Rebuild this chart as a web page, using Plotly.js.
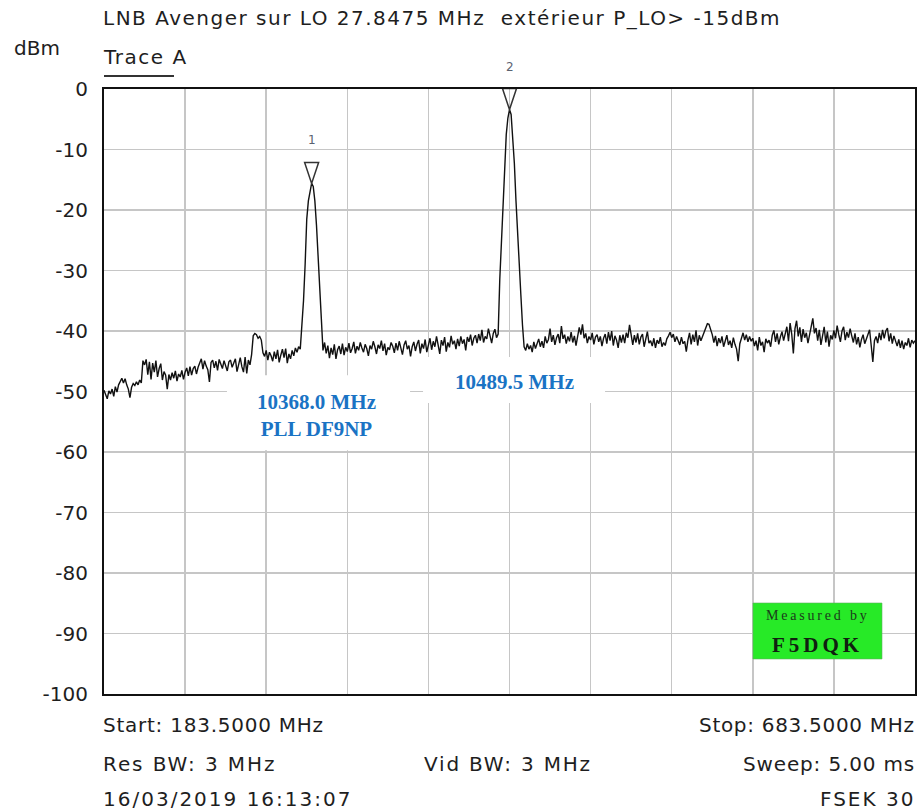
<!DOCTYPE html>
<html>
<head>
<meta charset="utf-8">
<script src="https://cdn.plot.ly/plotly-3.0.1.min.js"></script>
<style>
html,body{margin:0;padding:0;background:#fff;}
#chart{width:917px;height:810px;}
</style>
</head>
<body>
<div id="chart"></div>
<script>
// ---- Sweep settings (MHz) ----
var startFreq = 183.5;
var stopFreq = 683.5;
var stepFreq = 1.0;

// ---- Trace A levels (dBm), one per sweep point ----
var noiseLeft = [
 -49.8,-50.6,-51.2,-49.9,-50.4,-49.6,-50.8,-49.2,-50.1,-48.9,
 -48.2,-47.8,-48.6,-47.9,-48.9,-49.6,-51.0,-49.3,-48.7,-49.0,
 -48.4,-48.9,-48.1,-48.6,-44.9,-45.6,-44.7,-47.2,-45.1,-48.0,
 -45.3,-46.8,-44.9,-47.6,-46.2,-45.4,-48.1,-46.7,-47.3,-49.6,
 -47.2,-48.1,-46.9,-47.8,-46.6,-48.3,-47.1,-47.6,-46.5,-48.0,
 -46.8,-46.1,-47.4,-45.9,-47.3,-46.2,-45.8,-47.1,-46.0,-45.3,
 -44.6,-46.3,-44.9,-45.8,-46.4,-48.4,-45.2,-44.8,-46.1,-45.0,
 -46.5,-44.7,-45.6,-46.2,-44.9,-45.7,-46.6,-45.1,-44.8,-46.0,
 -45.3,-44.6,-46.7,-45.2,-44.4,-45.9,-46.8,-44.3,-47.0,-44.8,
 -45.6,-43.9,-40.8,-40.4,-40.6,-41.2,-40.9,-41.5,-43.6,-44.2,
 -43.2,-44.8,-43.5,-44.1,-45.0,-43.4,-44.6,-43.1,-45.2,-44.0,
 -43.0,-44.4,-42.9,-45.3,-43.8,-44.6,-43.2,-44.1,-42.8,-43.5,
 -42.6
];
var peakOne = [
 -43.0,-39.5,-35.0,-29.0,-21.5,-18.5,-16.7,-15.6,-16.1,-18.5,
 -22.5,-28.5,-33.5,-38.0,-43.2
];
var noiseMid = [
 -41.9,-43.7,-42.4,-44.5,-42.8,-43.9,-42.2,-44.6,-43.1,-42.5,-43.8,-42.1,-44.0,-42.7,
 -43.4,-42.0,-43.6,-42.9,-41.8,-43.7,-42.5,-43.2,-41.9,-42.8,
 -43.5,-42.2,-42.9,-44.1,-42.4,-43.0,-41.7,-42.6,-43.8,-42.3,
 -42.9,-41.6,-43.3,-42.1,-44.0,-42.7,-43.1,-41.9,-42.5,-43.6,
 -42.0,-43.2,-41.7,-42.8,-43.9,-42.3,-41.6,-43.0,-42.4,-44.2,
 -42.6,-41.8,-43.3,-42.2,-41.5,-43.7,-42.1,-42.9,-41.4,-43.5,
 -42.0,-41.2,-43.1,-41.7,-42.6,-40.9,-42.3,-43.8,-41.5,-42.4,
 -41.0,-43.4,-41.9,-42.7,-40.8,-42.2,-41.6,-43.0,-41.3,-42.5,
 -40.9,-42.1,-41.4,-43.2,-41.0,-41.8,-40.6,-42.4,-41.2,-40.7,
 -42.0,-40.5,-41.6,-39.8,-41.9,-40.9,-41.3,-39.6,-40.8,-42.0,
 -40.4,-39.7,-41.1
];
var peakTwo = [
 -40.5,-31.5,-25.5,-19.0,-12.0,-7.5,-4.8,-3.4,-4.2,-7.8,
 -12.3,-18.5,-24.5,-29.5,-34.0,-39.0,-42.6
];
var noiseRight = [
 -43.2,-42.1,-43.0,-42.4,-43.5,-41.8,-42.9,-42.2,-41.3,-42.6,
 -41.7,-42.8,-40.9,-42.0,-41.4,-39.6,-41.8,-40.7,-42.3,-41.1,
 -40.5,-42.0,-39.2,-41.3,-40.6,-42.1,-40.9,-41.7,-40.2,-41.9,
 -40.8,-42.4,-41.1,-39.4,-40.6,-38.9,-41.2,-40.4,-42.0,-40.9,
 -41.5,-40.3,-42.2,-41.0,-40.6,-41.8,-40.9,-42.5,-41.2,-40.5,
 -42.1,-40.2,-41.6,-40.0,-42.4,-40.8,-41.5,-42.8,-40.7,-41.9,
 -40.6,-42.0,-40.3,-41.1,-39.0,-40.8,-42.3,-40.7,-41.9,-40.4,
 -42.2,-41.0,-40.5,-42.6,-41.3,-40.1,-42.0,-41.6,-42.5,-41.2,
 -42.8,-41.5,-42.1,-41.0,-42.6,-41.9,-42.4,-41.3,-40.8,-40.2,
 -41.1,-40.5,-41.8,-40.9,-41.6,-42.3,-41.0,-42.1,-41.7,-43.4,
 -41.5,-40.3,-42.2,-40.6,-41.8,-39.9,-42.4,-40.7,-41.6,-40.9,
 -40.2,-39.5,-38.8,-38.9,-39.7,-40.6,-41.9,-40.8,-42.5,-41.2,
 -42.0,-40.9,-42.6,-41.4,-40.7,-42.3,-41.6,-42.8,-41.1,-42.2,
 -43.0,-45.0,-42.1,-41.2,-40.3,-41.5,-40.6,-41.8,-40.9,-41.7,
 -41.2,-42.5,-41.6,-43.2,-41.0,-42.4,-41.8,-43.5,-41.3,-42.0,
 -41.5,-42.6,-40.7,-39.9,-41.8,-40.4,-42.2,-41.0,-40.1,-41.6,
 -40.2,-39.3,-41.7,-38.7,-40.5,-43.7,-39.6,-38.3,-40.9,-39.4,
 -41.8,-39.7,-41.1,-40.3,-42.0,-40.6,-38.9,-37.9,-40.4,-39.5,
 -41.6,-39.8,-42.3,-40.5,-39.3,-41.9,-40.1,-42.6,-40.7,-41.4,
 -39.9,-41.2,-39.1,-40.6,-41.8,-40.0,-39.3,-41.5,-40.2,-41.1,
 -39.6,-40.8,-41.9,-40.4,-42.2,-41.0,-42.7,-41.4,-40.6,-42.1,
 -41.3,-40.5,-39.8,-42.4,-45.1,-41.6,-40.9,-42.0,-40.3,-41.5,
 -39.8,-41.2,-40.0,-39.5,-41.7,-40.4,-42.1,-40.8,-41.9,-42.5,
 -41.4,-42.8,-41.6,-43.0,-41.9,-42.4,-41.2,-42.7,-41.5,-42.0,-41.6
];

// ---- Markers ----
var markerFreq = [311.5, 433.5];
var markerLevel = [-15.6, -3.4];
var markerNames = ['1', '2'];

// ---- Axis ----
var yTickVals = [0,-10,-20,-30,-40,-50,-60,-70,-80,-90,-100];
var yTickText = ['0','-10','-20','-30','-40','-50','-60','-70','-80','-90','-100'];

// ---- Texts ----
var titleText = 'LNB Avenger sur LO 27.8475 MHz  extérieur P_LO> -15dBm';
var unitText = 'dBm';
var traceText = 'Trace A';
var footerLeft = ['Start: 183.5000 MHz', 'Res BW: 3 MHz', '16/03/2019 16:13:07'];
var footerRight = ['Stop: 683.5000 MHz', 'Sweep: 5.00 ms', 'FSEK 30'];
var footerMid = 'Vid BW: 3 MHz';
var noteOne = '10368.0 MHz<br>PLL DF9NP';
var noteTwo = '10489.5 MHz';

var traceLevels = noiseLeft.concat(peakOne, noiseMid, peakTwo, noiseRight);

var sans = 'DejaVu Sans, Arial, sans-serif';
var serif = 'Liberation Serif, Times New Roman, serif';
var txtColor = '#1e1e1e';
var blue = '#1a73c4';

function spaced(t, px) {
  return '<span style="letter-spacing:' + px + 'px">' + t + '</span>';
}

var traces = [{
  type: 'scatter', mode: 'lines',
  x0: startFreq, dx: stepFreq, y: traceLevels,
  line: {color: '#111', width: 1.4},
  hoverinfo: 'skip'
}];

var footerY = [-0.0512, -0.1157, -0.1736];
var leftSpacing = [0.75, 1.9, 2.0];
var rightSpacing = [0.7, 0.85, 2.0];
var annotations = [
  {xref:'paper', yref:'paper', x:0, xshift:-3, y:1.1174, xanchor:'left', yanchor:'middle', showarrow:false,
   text:spaced(titleText, 1.5), font:{family:sans, size:20, color:txtColor}},
  {xref:'paper', yref:'paper', x:-0.111, xshift:-2, y:1.0678, xanchor:'left', yanchor:'middle', showarrow:false,
   text:unitText, font:{family:sans, size:20, color:txtColor}},
  {xref:'paper', yref:'paper', x:0, xshift:-3, y:1.0529, xanchor:'left', yanchor:'middle', showarrow:false,
   text:spaced(traceText, 1.5), font:{family:sans, size:20, color:txtColor}},
  {xref:'paper', yref:'paper', x:0.3958, xshift:-3, y:footerY[1], xanchor:'left', yanchor:'middle', showarrow:false,
   text:spaced(footerMid, 1.8), font:{family:sans, size:20, color:txtColor}},
  {xref:'x', yref:'y', x:314.8, y:-53.9, xanchor:'center', yanchor:'middle', showarrow:false,
   text:'<b>'+noteOne+'</b>', font:{family:serif, size:21, color:blue}},
  {xref:'x', yref:'y', x:436.3, y:-48.4, xanchor:'center', yanchor:'middle', showarrow:false,
   text:'<b>'+noteTwo+'</b>', font:{family:serif, size:21, color:blue}},
  {xref:'paper', yref:'paper', x:0.8798, y:0.1295, xanchor:'center', yanchor:'middle', showarrow:false,
   text:spaced('Measured by', 2.8), font:{family:serif, size:14, color:'#1b3b1b'}},
  {xref:'paper', yref:'paper', x:0.8798, y:0.0815, xanchor:'center', yanchor:'middle', showarrow:false,
   text:'<b>'+spaced('F5DQK', 4)+'</b>', font:{family:serif, size:21, color:'#102010'}}
];
for (var i = 0; i < footerLeft.length; i++) {
  annotations.push({xref:'paper', yref:'paper', x:0, xshift:-3, y:footerY[i], xanchor:'left', yanchor:'middle',
    showarrow:false, text:spaced(footerLeft[i], leftSpacing[i]), font:{family:sans, size:20, color:txtColor}});
  annotations.push({xref:'paper', yref:'paper', x:1, xshift:2, y:footerY[i], xanchor:'right', yanchor:'middle',
    showarrow:false, text:spaced(footerRight[i], rightSpacing[i]), font:{family:sans, size:20, color:txtColor}});
}
for (var m = 0; m < markerFreq.length; m++) {
  annotations.push({xref:'x', yref:'y', x:markerFreq[m], y:markerLevel[m], yshift:43,
    xanchor:'center', yanchor:'middle', showarrow:false, text:markerNames[m],
    font:{family:sans, size:12, color:'#5a6270'}});
}

var shapes = [
  // white label backgrounds hiding grid lines
  {type:'rect', xref:'x', yref:'y', x0:259.3, x1:372.2, y0:-59.7, y1:-47.3,
   fillcolor:'#fff', line:{width:0}, layer:'between'},
  {type:'rect', xref:'x', yref:'y', x0:380.2, x1:492.4, y0:-51.9, y1:-44.3,
   fillcolor:'#fff', line:{width:0}, layer:'between'},
  // green stamp
  {type:'rect', xref:'paper', yref:'paper', x0:0.8002, x1:0.9593, y0:0.0579, y1:0.1504,
   fillcolor:'#27ea27', line:{width:0.6, color:'#60b060'}, layer:'above'},
  // underline under Trace A
  {type:'line', xref:'paper', yref:'paper', x0:0, x1:0.0863, y0:1.0215, y1:1.0215,
   line:{color:'#333', width:2}}
];
for (var s = 0; s < markerFreq.length; s++) {
  shapes.push({type:'path', xref:'x', yref:'y', xsizemode:'pixel', ysizemode:'pixel',
    xanchor:markerFreq[s], yanchor:markerLevel[s],
    path:'M-7,21L7,21L0,0Z', line:{color:'#333', width:1.5}, fillcolor:'rgba(0,0,0,0)', layer:'above'});
}

var layout = {
  width: 917, height: 810,
  margin: {l:104, r:2, t:89, b:116, pad:0},
  paper_bgcolor: '#fff', plot_bgcolor: '#fff',
  showlegend: false,
  xaxis: {range:[startFreq, stopFreq], tick0:startFreq, dtick:50, showticklabels:false,
    showgrid:true, gridcolor:'#c6c6c6', gridwidth:1.5, zeroline:false,
    showline:true, mirror:true, linecolor:'#111', linewidth:2, ticks:''},
  yaxis: {range:[-100, 0], tickvals:yTickVals, ticktext:yTickText,
    showgrid:true, gridcolor:'#c6c6c6', gridwidth:1.5, zeroline:false,
    showline:true, mirror:true, linecolor:'#111', linewidth:2, ticks:'',
    ticklabelstandoff:10, tickfont:{family:sans, size:20, color:txtColor}},
  annotations: annotations,
  shapes: shapes
};

Plotly.newPlot('chart', traces, layout, {staticPlot:true, displayModeBar:false});
</script>
</body>
</html>
